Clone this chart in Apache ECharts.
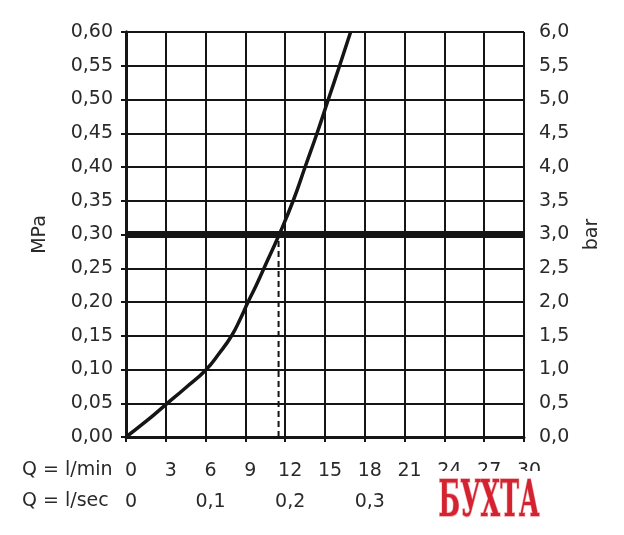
<!DOCTYPE html>
<html>
<head>
<meta charset="utf-8">
<script src="https://cdn.jsdelivr.net/npm/echarts@6/dist/echarts.min.js"></script>
<style>html,body{margin:0;padding:0;background:#fff}#c{width:624px;height:535px}</style>
</head>
<body>
<div id="c"></div>
<script>
// Data
var flowLpm = [0, 1.5, 3, 4.5, 6, 7.03, 7.96, 8.64, 9.2, 9.8, 10.4, 11.55, 12.6, 13.5, 14.4, 15.25, 16.1, 16.93];
var pressureMPa = [0, 0.023, 0.048, 0.073, 0.099, 0.124, 0.15, 0.176, 0.20, 0.224, 0.25, 0.30, 0.35, 0.40, 0.45, 0.50, 0.55, 0.60];
var refPressure = 0.30;
var refFlow = 11.5;
var lpmTicks = [0, 3, 6, 9, 12, 15, 18, 21, 24, 27, 30];
var lpsTicks = [0, 0.1, 0.2, 0.3];
var mpaTicks = [0, 0.05, 0.10, 0.15, 0.20, 0.25, 0.30, 0.35, 0.40, 0.45, 0.50, 0.55, 0.60];
var barTicks = [0, 0.5, 1, 1.5, 2, 2.5, 3, 3.5, 4, 4.5, 5, 5.5, 6];

var FONT = 'DejaVu Sans';
var FS = 19;
var TXT = '#2a2a2a';
var LINE = '#151515';

var curve = flowLpm.map(function (x, i) { return [x, pressureMPa[i]]; });

var chart = echarts.init(document.getElementById('c'));
chart.setOption({
  animation: false,
  backgroundColor: '#fff',
  grid: { left: 126, right: 100, top: 32, bottom: 98 },
  xAxis: [{
    type: 'value', min: lpmTicks[0], max: lpmTicks[lpmTicks.length - 1], interval: 3,
    position: 'bottom',
    axisLine: { show: true, lineStyle: { color: LINE, width: 3 } },
    axisTick: { show: true, length: 5, lineStyle: { color: LINE, width: 2 } },
    splitLine: { show: true, lineStyle: { color: LINE, width: 2 } },
    axisLabel: { color: TXT, fontFamily: FONT, fontSize: FS, margin: 25, padding: [0, 0, 0, 10],
      formatter: function (v) { return lpmTicks.indexOf(v) >= 0 ? String(v) : ''; } }
  }, {
    type: 'value', min: 0, max: 0.5, interval: 0.1, position: 'bottom',
    axisLine: { show: false }, axisTick: { show: false }, splitLine: { show: false },
    axisLabel: { color: TXT, fontFamily: FONT, fontSize: FS, margin: 56, padding: [0, 0, 0, 10],
      formatter: function (v) {
        var r = Math.round(v * 10) / 10;
        if (lpsTicks.indexOf(r) < 0) return '';
        return r === 0 ? '0' : r.toFixed(1).replace('.', ',');
      } }
  }],
  yAxis: [{
    type: 'value', min: mpaTicks[0], max: mpaTicks[mpaTicks.length - 1], interval: 0.05, position: 'left',
    name: 'MPa', nameLocation: 'middle', nameRotate: 90, nameGap: 76,
    nameTextStyle: { color: TXT, fontFamily: FONT, fontSize: FS },
    axisLine: { show: true, lineStyle: { color: LINE, width: 3 } },
    axisTick: { show: true, length: 5, lineStyle: { color: LINE, width: 2 } },
    splitLine: { show: true, lineStyle: { color: LINE, width: 2 } },
    axisLabel: { color: TXT, fontFamily: FONT, fontSize: FS, margin: 13,
      formatter: function (v) { return v.toFixed(2).replace('.', ','); } }
  }, {
    type: 'value', min: barTicks[0], max: barTicks[barTicks.length - 1], interval: 0.5, position: 'right',
    name: 'bar', nameLocation: 'middle', nameRotate: 90, nameGap: 59,
    nameTextStyle: { color: TXT, fontFamily: FONT, fontSize: FS },
    axisLine: { show: true, lineStyle: { color: LINE, width: 3 } },
    axisTick: { show: true, length: 5, lineStyle: { color: LINE, width: 2 } },
    splitLine: { show: false },
    axisLabel: { color: TXT, fontFamily: FONT, fontSize: FS, margin: 15,
      formatter: function (v) { return v.toFixed(1).replace('.', ','); } }
  }],
  series: [{
    type: 'line', xAxisIndex: 0, yAxisIndex: 0,
    data: [[0, refPressure], [30, refPressure]],
    symbol: 'none', lineStyle: { color: LINE, width: 7 }, z: 3
  }, {
    type: 'line', xAxisIndex: 0, yAxisIndex: 0,
    data: [[refFlow, 0], [refFlow, refPressure]],
    symbol: 'none', lineStyle: { color: LINE, width: 2, type: [6, 4] }, z: 4
  }, {
    type: 'line', xAxisIndex: 0, yAxisIndex: 0,
    data: curve, smooth: 0.5, symbol: 'none',
    lineStyle: { color: LINE, width: 3.5 }, z: 5
  }],
  graphic: [{
    type: 'text', left: 22, top: 461,
    style: { text: 'Q = l/min', fill: TXT, font: FS + 'px ' + FONT }
  }, {
    type: 'text', left: 22, top: 492,
    style: { text: 'Q = l/sec', fill: TXT, font: FS + 'px ' + FONT }
  }, {
    type: 'rect', shape: { x: 432, y: 471, width: 120, height: 14 },
    style: { fill: '#fff' }, z: 100
  }, {
    type: 'text', x: 489, y: 503, scaleX: 0.7, scaleY: 1.42, z: 101,
    style: { text: 'БУХТА', fill: '#d42330', stroke: '#f2b8bc', lineWidth: 1.5,
      font: 'bold 36px "DejaVu Serif"', align: 'center', verticalAlign: 'middle' }
  }]
});
</script>
</body>
</html>
